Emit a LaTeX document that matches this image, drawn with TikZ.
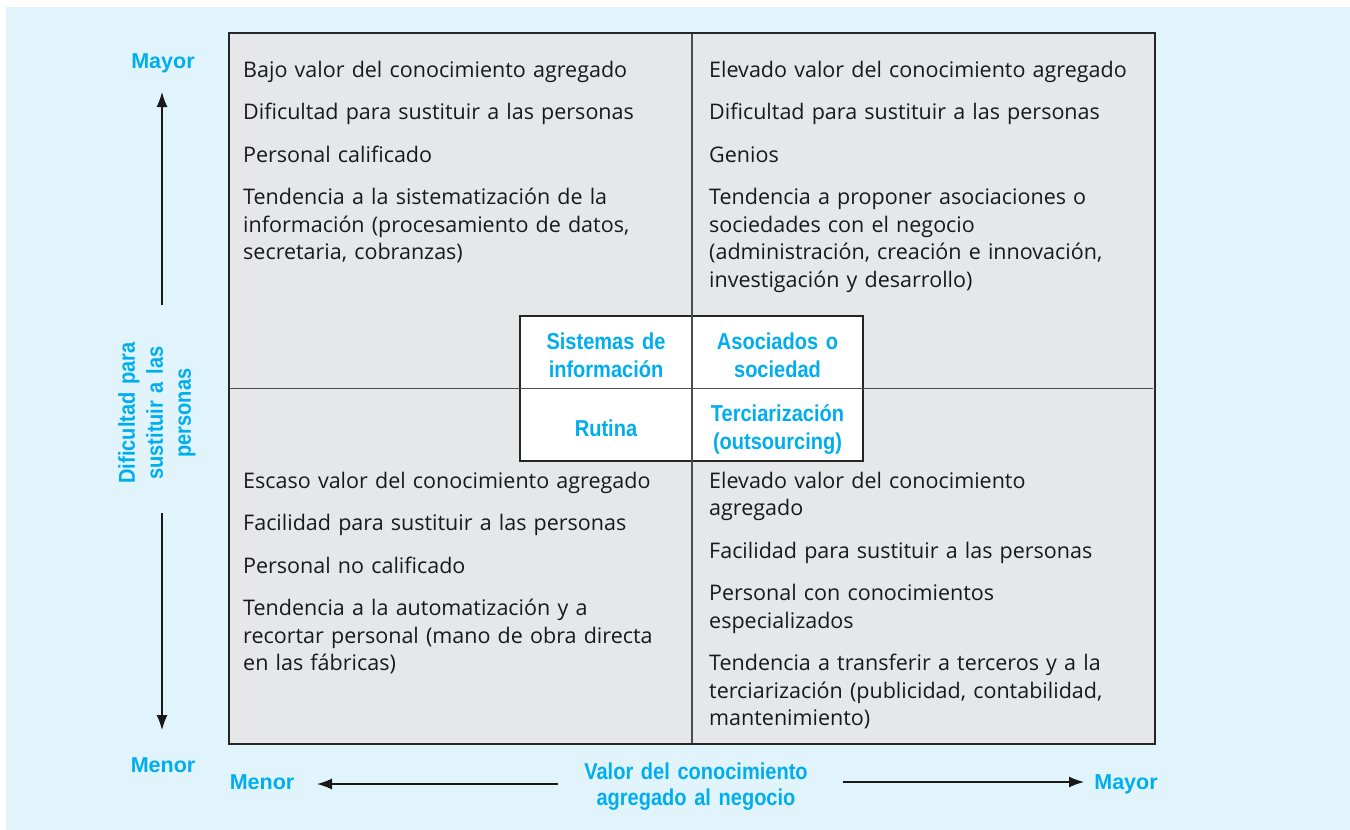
\documentclass[tikz,border=0pt]{standalone}
\usepackage{fontspec}
\setmainfont{Open Sans}
\newfontfamily\axisfont{Liberation Sans}
\newfontfamily\condfont[FakeStretch=0.87]{Liberation Sans}
\usetikzlibrary{arrows.meta}
\definecolor{bgblue}{HTML}{E1F4FC}
\definecolor{boxgrey}{HTML}{E6E7E8}
\definecolor{lblblue}{HTML}{00AEEF}
\newcommand\quadgap{\\[15pt]}

\begin{document}
\begin{tikzpicture}[x=1pt,y=-1pt,
    quadtext/.style={anchor=base west,inner sep=0pt,text width=450pt,align=left,
      text=black!90,font=\fontsize{21.5}{27.5}\selectfont},
    celllbl/.style={anchor=base,inner sep=0pt,text width=260pt,align=center,
      text=lblblue,font=\condfont\bfseries\fontsize{23}{28}\selectfont},
    axislbl/.style={anchor=base,inner sep=0pt,text=lblblue,
      font=\axisfont\bfseries\fontsize{21.5}{28}\selectfont},
    axisarrow/.style={draw=black!90,line width=1.3pt,-{Latex[length=15pt,width=11pt]}}]
  % background
  \fill[bgblue] (6,7) rectangle (1350,830);
  \useasboundingbox (0,0) rectangle (1350,830);
  % matrix with the four quadrants
  \fill[boxgrey] (229,33) rectangle (1155,744);
  \draw[fill=white,draw=black!85,line width=1.3pt] (520,316) rectangle (863,461);
  \draw[black!70,line width=1.8pt] (692,33) -- (692,744);
  \draw[black!70,line width=1.8pt] (229,388.5) -- (1153,388.5);
  \draw[black!85,line width=1.3pt] (229,33) rectangle (1155,744);
  % quadrant texts
  \node[quadtext] (tl) at (243,77) {Bajo valor del conocimiento agregado\quadgap
    Dificultad para sustituir a las personas\quadgap
    Personal calificado\quadgap
    Tendencia a la sistematización de la\\información (procesamiento de datos,\\secretaria, cobranzas)};
  \node[quadtext] (tr) at (709,77) {Elevado valor del conocimiento agregado\quadgap
    Dificultad para sustituir a las personas\quadgap
    Genios\quadgap
    Tendencia a proponer asociaciones o\\sociedades con el negocio\\(administración, creación e innovación,\\investigación y desarrollo)};
  \node[quadtext] (bl) at (243,488) {Escaso valor del conocimiento agregado\quadgap
    Facilidad para sustituir a las personas\quadgap
    Personal no calificado\quadgap
    Tendencia a la automatización y a\\recortar personal (mano de obra directa\\en las fábricas)};
  \node[quadtext] (br) at (709,488) {Elevado valor del conocimiento\\agregado\quadgap
    Facilidad para sustituir a las personas\quadgap
    Personal con conocimientos\\especializados\quadgap
    Tendencia a transferir a terceros y a la\\terciarización (publicidad, contabilidad,\\mantenimiento)};
  % center labels
  \node[celllbl,text width=170pt] (sisinfo) at (606,349) {Sistemas de\\información};
  \node[celllbl,text width=170pt] (asoc) at (777.5,349) {Asociados o\\sociedad};
  \node[celllbl,text width=170pt] (rutina) at (606,436) {Rutina};
  \node[celllbl,text width=170pt] (terc) at (777.5,421) {Terciarización\\(outsourcing)};
  % vertical axis
  \node[axislbl] (ymax) at (163,68) {Mayor};
  \node[axislbl] (ymin) at (163,772) {Menor};
  \node[celllbl,anchor=center,rotate=90,text width=170pt] (ylbl) at (157,413)
    {Dificultad para\\sustituir a las\\personas};
  \coordinate (upstart) at (162,305);
  \coordinate (uptip) at (162,92);
  \coordinate (downstart) at (162,513);
  \coordinate (downtip) at (162,730);
  \draw[axisarrow] (upstart) -- (uptip);
  \draw[axisarrow] (downstart) -- (downtip);
  % horizontal axis
  \node[axislbl] (xmin) at (262,789) {Menor};
  \node[axislbl] (xmax) at (1126,789) {Mayor};
  \node[celllbl,font=\condfont\bfseries\fontsize{23}{26.5}\selectfont] (xlbl) at (696,779)
    {Valor del conocimiento\\agregado al negocio};
  \coordinate (leftstart) at (558,784);
  \coordinate (lefttip) at (317,784);
  \coordinate (rightstart) at (843,782);
  \coordinate (righttip) at (1084,782);
  \draw[axisarrow] (leftstart) -- (lefttip);
  \draw[axisarrow] (rightstart) -- (righttip);
\end{tikzpicture}
\end{document}
